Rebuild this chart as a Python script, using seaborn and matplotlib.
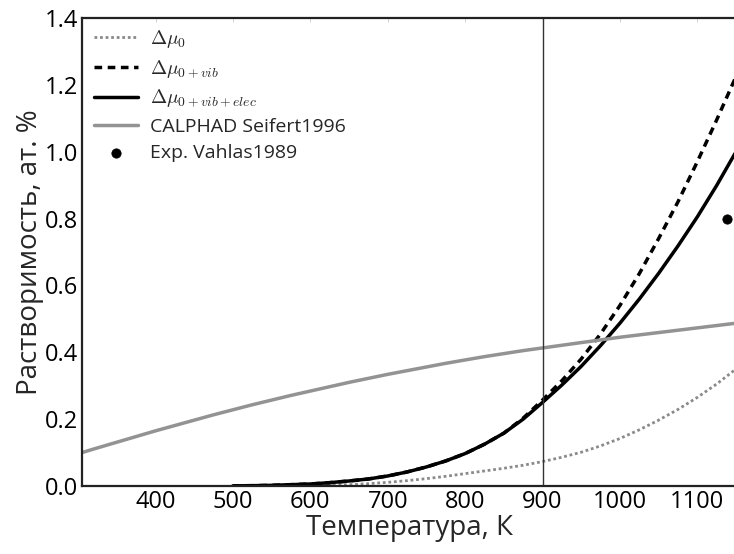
import matplotlib
matplotlib.use("Agg")
import matplotlib.pyplot as plt
import seaborn as sns
import pandas as pd

# temperatures, K (every 25 K)
temps = [500, 525, 550, 575, 600, 625, 650, 675, 700, 725, 750, 775, 800, 825, 850,
         875, 900, 925, 950, 975, 1000, 1025, 1050, 1075, 1100, 1125, 1150]
mu0 = [0, 0, 0, 0, 0.001, 0.002, 0.004, 0.007, 0.011, 0.016, 0.022, 0.029, 0.037, 0.045, 0.053,
       0.062, 0.073, 0.086, 0.101, 0.12, 0.142, 0.168, 0.197, 0.229, 0.265, 0.305, 0.35]
mu0_vib = [0.0005, 0.001, 0.002, 0.004, 0.006, 0.01, 0.015, 0.021, 0.03, 0.042, 0.057, 0.075, 0.097, 0.125, 0.158,
           0.203, 0.257, 0.315, 0.38, 0.455, 0.54, 0.635, 0.74, 0.85, 0.97, 1.095, 1.225]
mu0_vib_elec = [0.0005, 0.001, 0.002, 0.004, 0.006, 0.01, 0.015, 0.021, 0.03, 0.042, 0.057, 0.075, 0.097, 0.125, 0.158,
                0.2, 0.25, 0.302, 0.358, 0.42, 0.487, 0.559, 0.636, 0.718, 0.805, 0.899, 1.0]
calphad_t = [305, 325, 350, 375, 400, 425, 450, 475, 500, 525, 550, 575, 600, 625, 650, 675, 700, 725,
             750, 775, 800, 825, 850, 875, 900, 925, 950, 975, 1000, 1025, 1050, 1075, 1100, 1125, 1150]
calphad = [0.100, 0.114, 0.131, 0.148, 0.165, 0.181, 0.197, 0.213, 0.228, 0.243, 0.257, 0.271, 0.284,
           0.297, 0.310, 0.322, 0.334, 0.345, 0.356, 0.367, 0.377, 0.387, 0.396, 0.405, 0.413, 0.421,
           0.429, 0.437, 0.445, 0.452, 0.459, 0.466, 0.473, 0.480, 0.487]
exp_t = [1138]
exp_val = [0.80]

sns.set_style("white")
plt.rcParams["font.family"] = ["Open Sans", "DejaVu Sans"]
plt.rcParams["mathtext.fontset"] = "cm"

fig = plt.figure(figsize=(7.34, 5.54), dpi=100)
ax = fig.add_axes([82 / 734, 1 - 486 / 554, 654 / 734, 468 / 554])

df = pd.DataFrame({"T": temps, "mu0": mu0, "vib": mu0_vib, "elec": mu0_vib_elec})
df_c = pd.DataFrame({"T": calphad_t, "c": calphad})

sns.lineplot(data=df, x="T", y="mu0", ax=ax, color="#8a8a8a", lw=2, ls=(0, (1, 1)),
             label=r"$\Delta\mu_0$")
sns.lineplot(data=df, x="T", y="vib", ax=ax, color="black", lw=2.5, ls=(0, (2.2, 1.6)),
             label=r"$\Delta\mu_{0+vib}$")
sns.lineplot(data=df, x="T", y="elec", ax=ax, color="black", lw=2.5,
             label=r"$\Delta\mu_{0+vib+elec}$")
sns.lineplot(data=df_c, x="T", y="c", ax=ax, color="#939393", lw=2.5,
             label="CALPHAD Seifert1996")
sns.scatterplot(x=exp_t, y=exp_val, ax=ax, color="black", s=45, edgecolor="black",
                label="Exp. Vahlas1989", zorder=5)

ax.axvline(900, color="#333333", lw=1)

ax.set_xlim(305, 1150)
ax.set_ylim(0, 1.4)
ax.set_xticks([400, 500, 600, 700, 800, 900, 1000, 1100])
ax.set_yticks([0.0, 0.2, 0.4, 0.6, 0.8, 1.0, 1.2, 1.4])
ax.set_yticklabels(["0.0", "0.2", "0.4", "0.6", "0.8", "1.0", "1.2", "1.4"])
ax.tick_params(direction="in", length=3, width=0.6, labelsize=17, colors="#cccccc",
               labelcolor="black", top=True, pad=3)
for s in ax.spines.values():
    s.set_color("#222222")
    s.set_linewidth(1.6)
ax.spines["right"].set_visible(False)

ax.set_xlabel("Температура, К", fontsize=20, labelpad=0)
ax.set_ylabel("Растворимость, ат. %", fontsize=20, labelpad=0)

ax.legend(loc="upper left", bbox_to_anchor=(0.0, 1.003), frameon=False, fontsize=14,
          handlelength=2.3, labelspacing=0.42, handletextpad=0.6, borderaxespad=0.2)

fig.savefig("out.png", dpi=100)
